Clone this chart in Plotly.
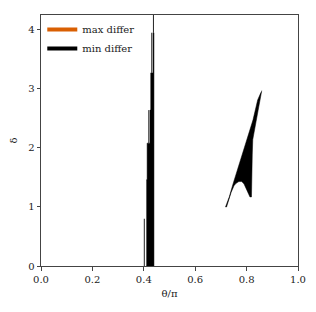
import plotly.graph_objects as go

# Region where the "min differ" condition holds (theta/pi, delta)
# Band near theta/pi ~ 0.42 (staircase outline)
band_theta = [0.410, 0.4395, 0.4395, 0.436, 0.436, 0.427, 0.427, 0.424, 0.424,
              0.413, 0.413, 0.410]
band_delta = [0.0, 0.0, 3.95, 3.95, 3.27, 3.27, 2.64, 2.64, 2.08,
              2.08, 1.46, 1.46]

# Thin single-cell slivers of the band
sliver_theta = [0.402, 0.402, None, 0.4195, 0.4195, None, 0.431, 0.431, None, 0.4375, 0.4375]
sliver_delta = [0.0, 0.80, None, 2.08, 2.64, None, 3.27, 3.95, None, 3.95, 4.25]

# Curved wedge near theta/pi ~ 0.8
wedge_theta = [0.859, 0.852, 0.838, 0.824, 0.822, 0.821, 0.819, 0.813, 0.802,
               0.790, 0.781, 0.770, 0.759, 0.751, 0.740, 0.730, 0.722, 0.718,
               0.733, 0.746, 0.773, 0.799, 0.825, 0.843, 0.856]
wedge_delta = [2.97, 2.81, 2.47, 2.14, 1.88, 1.49, 1.17, 1.17, 1.29,
               1.39, 1.43, 1.43, 1.40, 1.36, 1.25, 1.12, 1.00, 1.00,
               1.175, 1.373, 1.741, 2.136, 2.475, 2.81, 2.94]

# "max differ" region: empty in this view
max_theta = []
max_delta = []

x_ticks = [0.0, 0.2, 0.4, 0.6, 0.8, 1.0]
x_ticklabels = ["0.0", "0.2", "0.4", "0.6", "0.8", "1.0"]
y_ticks = [0, 1, 2, 3, 4]

FONT = "DejaVu Serif, serif"
fig = go.Figure()

fig.add_trace(go.Scatter(x=band_theta, y=band_delta, fill="toself", fillcolor="black",
                         mode="lines", line=dict(width=0.5, color="black"),
                         showlegend=False, hoverinfo="skip"))
fig.add_trace(go.Scatter(x=wedge_theta, y=wedge_delta, fill="toself", fillcolor="black",
                         mode="lines", line=dict(width=0.5, color="black"),
                         showlegend=False, hoverinfo="skip"))
fig.add_trace(go.Scatter(x=sliver_theta, y=sliver_delta, mode="lines",
                         line=dict(width=1, color="#222"),
                         showlegend=False, hoverinfo="skip"))

fig.add_trace(go.Scatter(x=max_theta if max_theta else [None], y=max_delta if max_delta else [None],
                         mode="lines", name="max differ",
                         line=dict(color="#d95f02", width=4)))
fig.add_trace(go.Scatter(x=[None], y=[None], mode="lines", name="min differ",
                         line=dict(color="black", width=4)))

fig.update_layout(
    width=316, height=312,
    margin=dict(l=41, r=18, t=15, b=46, autoexpand=False),
    paper_bgcolor="white", plot_bgcolor="white",
    font=dict(family=FONT, size=10, color="#222"),
    showlegend=True,
    legend=dict(x=0.005, y=1.0, xanchor="left", yanchor="top",
                bgcolor="rgba(0,0,0,0)", borderwidth=0,
                font=dict(family=FONT, size=10, color="#222"),
                tracegroupgap=0),
    xaxis=dict(range=[0, 1], tickmode="array", tickvals=x_ticks, ticktext=x_ticklabels,
               showgrid=False, zeroline=False, showline=True, linecolor="#444", linewidth=1,
               mirror=True, ticks="outside", ticklen=3.5, tickcolor="#444", automargin=False,
               title=dict(text="θ/π", font=dict(family=FONT, size=10), standoff=6)),
    yaxis=dict(range=[0, 4.25], tickmode="array", tickvals=y_ticks,
               showgrid=False, zeroline=False, showline=True, linecolor="#444", linewidth=1,
               mirror=True, ticks="outside", ticklen=3.5, tickcolor="#444", automargin=False,
               title=dict(text="δ", font=dict(family=FONT, size=10), standoff=8)),
)

fig.write_html("out.html", config={"displayModeBar": False},
               post_script="document.body.style.margin='0';document.body.style.overflow='hidden';")
